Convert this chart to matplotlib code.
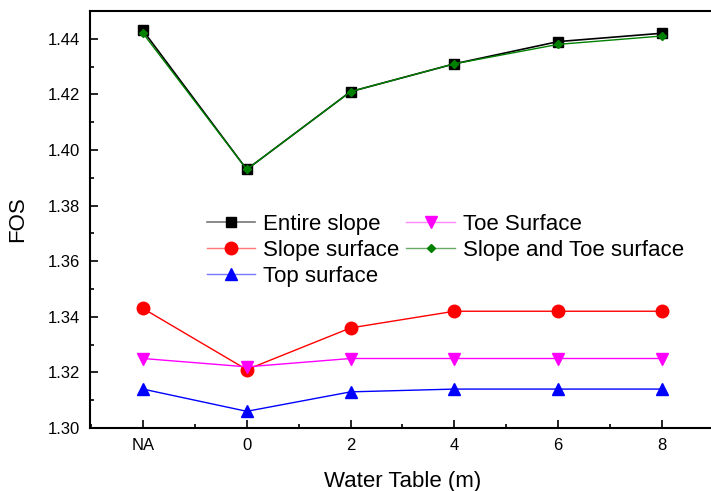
import matplotlib
matplotlib.use("Agg")
import matplotlib.pyplot as plt
from matplotlib.ticker import MultipleLocator, FormatStrFormatter

plt.rcParams['font.family'] = ['Liberation Sans', 'DejaVu Sans']

categories = ["NA", "0", "2", "4", "6", "8"]
entire_slope = [1.443, 1.393, 1.421, 1.431, 1.439, 1.442]
slope_surface = [1.343, 1.321, 1.336, 1.342, 1.342, 1.342]
top_surface = [1.314, 1.306, 1.313, 1.314, 1.314, 1.314]
toe_surface = [1.325, 1.322, 1.325, 1.325, 1.325, 1.325]
slope_toe_surface = [1.442, 1.393, 1.421, 1.431, 1.438, 1.441]

fig = plt.figure(figsize=(7.11, 4.91), dpi=100)
ax = fig.add_axes([90/711, 1-428/491, (716-90)/711, (428-11)/491])
x = list(range(len(categories)))

h1, = ax.plot(x, entire_slope, color='black', marker='s', ms=7, lw=1.2, label='Entire slope')
h2, = ax.plot(x, slope_surface, color='red', marker='o', ms=9, lw=1.0, label='Slope surface')
h3, = ax.plot(x, top_surface, color='blue', marker='^', ms=9, lw=1.0, label='Top surface')
h4, = ax.plot(x, toe_surface, color='magenta', marker='v', ms=9, lw=1.0, label='Toe Surface')
h5, = ax.plot(x, slope_toe_surface, color='green', marker='D', ms=4, lw=1.0, label='Slope and Toe surface')

ax.set_xlim(-0.51, 5.52)
ax.set_ylim(1.30, 1.45)
ax.set_xticks(x)
ax.set_xticklabels(categories)
ax.xaxis.set_minor_locator(MultipleLocator(0.5))
ax.yaxis.set_major_locator(MultipleLocator(0.02))
ax.yaxis.set_minor_locator(MultipleLocator(0.01))
ax.yaxis.set_major_formatter(FormatStrFormatter('%.2f'))
ax.tick_params(which='major', direction='in', length=6, width=1.2, labelsize=12)
ax.tick_params(which='minor', direction='in', length=3, width=1.2)
ax.tick_params(axis='x', which='major', pad=7)
ax.tick_params(axis='y', which='major', pad=7)
for s in ax.spines.values():
    s.set_linewidth(1.5)

ax.set_xlabel('Water Table (m)', fontsize=16, labelpad=13)
ax.set_ylabel('FOS', fontsize=16, labelpad=14)

leg = ax.legend(handles=[h1, h2, h3, h4, h5], ncol=2, frameon=False, fontsize=16,
                loc='upper left', bbox_to_anchor=(0.172, 0.535),
                handlelength=2.2, handletextpad=0.35, columnspacing=0.3,
                labelspacing=0.22, borderaxespad=0)
light = ['#777777', '#ff7777', '#7777ff', '#ff88ff', '#66aa66']
for ln, orig, lc in zip(leg.get_lines(), [h1, h2, h3, h4, h5], light):
    c = orig.get_color()
    ln.set_markerfacecolor(c)
    ln.set_markeredgecolor(c)
    ln.set_color(lc)

fig.savefig('out.png', dpi=100)
